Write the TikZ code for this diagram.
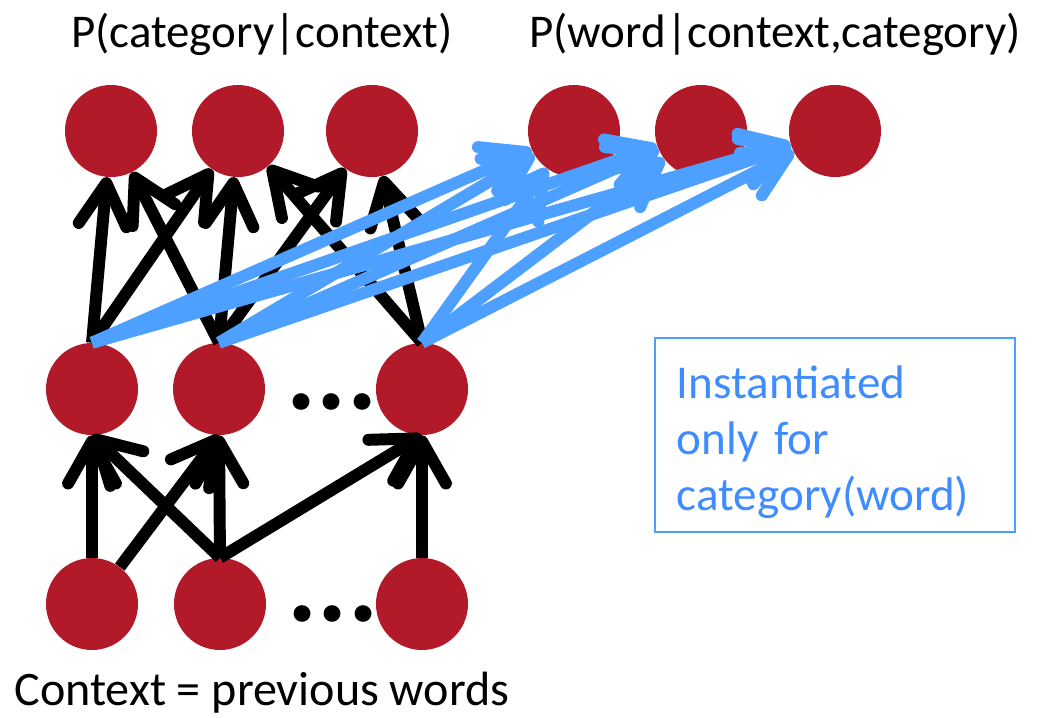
\documentclass[tikz,border=0pt]{standalone}
\usepackage{fontspec}
\setmainfont{Carlito}
\usetikzlibrary{arrows.meta}
\definecolor{unitred}{RGB}{178,26,41}
\definecolor{wordblue}{RGB}{77,160,255}
\definecolor{notetext}{RGB}{62,140,255}
\tikzset{
  unit/.style={circle, fill=unitred, inner sep=0pt, minimum size=2.3cm},
  link/.style={line width=8.5pt, -{Straight Barb[length=30pt,width=34pt,round]}},
  wordlink/.style={link, draw=wordblue},
  label/.style={font=\fontsize{33.4}{40}\selectfont, anchor=base},
  dots/.style={font=\fontsize{80}{80}\selectfont\bfseries, anchor=base},
}
\begin{document}
\begin{tikzpicture}[x=0.025cm,y=-0.025cm]
\useasboundingbox (0,0) rectangle (1055,718);

\node[unit] (t1) at (111,131) {};
\node[unit] (t2) at (238,131) {};
\node[unit] (t3) at (372,131) {};
\node[unit] (w1) at (574,131) {};
\node[unit] (w2) at (701,131) {};
\node[unit] (w3) at (835,131) {};
\node[unit] (m1) at (92,389) {};
\node[unit] (m2) at (219,389) {};
\node[unit] (m3) at (422,389) {};
\node[unit] (b1) at (92,604) {};
\node[unit] (b2) at (220,604) {};
\node[unit] (b3) at (422,604) {};
\node[dots] (mdots) at (332,409) {...};
\node[dots] (bdots) at (333,621) {...};

\draw [link](b1.north) -- (m1.south);
\draw [link](b1) -- (m2.south);
\draw [link](b2.north) -- (m1.south);
\draw [link](b2.north) -- (m2.south);
\draw [link](b2.north) -- (m3.south);
\draw [link](b3.north) -- (m3.south);

\draw [link](m1.north) -- (t1);
\draw [link](m1.north) -- (t2);
\draw [link](m2.north) -- (t1);
\draw [link](m2.north) -- (t2);
\draw [link](m2.north) -- (t3);
\draw [link](m3.north) -- (t2);
\draw [link](m3.north) -- (t3);

\draw [wordlink](m1.north) -- (w1);
\draw [wordlink](m1.north) -- (w2);
\draw [wordlink](m1.north) -- (w3);
\draw [wordlink](m2.north) -- (w1);
\draw [wordlink](m2.north) -- (w2);
\draw [wordlink](m2.north) -- (w3);
\draw [wordlink](m3.north) -- (w1);
\draw [wordlink](m3.north) -- (w2);
\draw [wordlink](m3.north) -- (w3);

\node[label] (pcat) at (262,47) {P(category|context)};
\node[label] (pword) at (775,47) {P(word|context,category)};
\node[label, font=\fontsize{34.2}{40}\selectfont] (ctx) at (262,705) {Context = previous words};
\draw[draw=wordblue, line width=1.4pt] (655,338) rectangle (1015,532);
\node[text width=7.9cm, align=left, text=notetext,
      font=\fontsize{33.5}{40}\selectfont] (note) at (835,442)
  {Instantiated\\only for\\category(word)};
\end{tikzpicture}
\end{document}
